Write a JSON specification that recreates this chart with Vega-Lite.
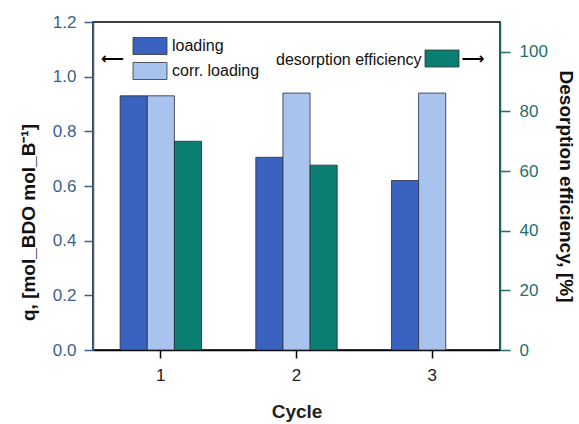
{
  "$schema": "https://vega.github.io/schema/vega-lite/v6.json",
  "width": 407,
  "height": 328,
  "autosize": "none",
  "padding": {"left": 93, "top": 22, "right": 79, "bottom": 74},
  "background": "white",
  "config": {"font": "Liberation Sans", "view": {"stroke": "#000", "strokeWidth": 1.5}},
  "data": {"values": [
    {"cycle": "1", "series": "loading", "q": 0.93},
    {"cycle": "1", "series": "corr. loading", "q": 0.93},
    {"cycle": "1", "series": "desorption efficiency", "eff": 70},
    {"cycle": "2", "series": "loading", "q": 0.705},
    {"cycle": "2", "series": "corr. loading", "q": 0.94},
    {"cycle": "2", "series": "desorption efficiency", "eff": 62},
    {"cycle": "3", "series": "loading", "q": 0.62},
    {"cycle": "3", "series": "corr. loading", "q": 0.94}
  ]},
  "encoding": {
    "x": {"field": "cycle", "type": "ordinal", "scale": {"paddingInner": 0.4, "paddingOuter": 0.2},
      "axis": {"title": "Cycle", "labelAngle": 0, "domainColor": "#000", "domainWidth": 1.5, "tickColor": "#000", "tickSize": 8, "tickWidth": 1.5, "labelFontSize": 17, "labelColor": "#222", "labelPadding": 9, "titleFontSize": 19, "titleFontWeight": "bold", "titleColor": "#222", "titlePadding": 19}},
    "xOffset": {"field": "series", "type": "nominal", "scale": {"domain": ["loading", "corr. loading", "desorption efficiency"]}}
  },
  "layer": [
    {
      "transform": [{"filter": "datum.series !== 'desorption efficiency'"}],
      "mark": {"type": "bar", "stroke": "#2a2a3a", "strokeWidth": 0.8},
      "encoding": {
        "y": {"field": "q", "type": "quantitative", "scale": {"domain": [0, 1.2], "nice": false},
          "axis": {"title": "q, [mol_BDO mol_B⁻¹]", "values": [0, 0.2, 0.4, 0.6, 0.8, 1.0, 1.2], "format": ".1f", "grid": false, "domainColor": "#3b5f8c", "domainWidth": 1.5, "tickColor": "#3b5f8c", "tickWidth": 1.5, "tickSize": 9, "labelColor": "#3b5f8c", "labelFontSize": 17, "labelPadding": 8, "titleFontSize": 19, "titleFontWeight": "bold", "titleColor": "#111", "titlePadding": 14, "titleY": 200}},
        "color": {"field": "series", "type": "nominal", "scale": {"domain": ["loading", "corr. loading"], "range": ["#3a62c0", "#a9c3ef"]},
          "legend": {"title": "⟵", "orient": "none", "legendX": 8, "legendY": 15, "titleOrient": "left", "titleFont": "DejaVu Sans", "titleFontSize": 16, "titleFontWeight": "bold", "titleColor": "#000", "titlePadding": 17, "titleBaseline": "middle", "titleAnchor": "middle", "symbolType": "M-2,-1H2V1H-2Z", "symbolSize": 289, "symbolStrokeColor": "#333", "symbolStrokeWidth": 0.8, "symbolOpacity": 1, "labelFontSize": 16, "labelColor": "#111", "labelOffset": 13, "rowPadding": 3, "padding": 0}}
      }
    },
    {
      "transform": [{"filter": "datum.series === 'desorption efficiency'"}],
      "mark": {"type": "bar", "stroke": "#2a2a3a", "strokeWidth": 0.8},
      "encoding": {
        "y": {"field": "eff", "type": "quantitative", "scale": {"domain": [0, 110], "nice": false},
          "axis": {"orient": "right", "title": "Desorption efficiency, [%]", "values": [0, 20, 40, 60, 80, 100], "grid": false, "domainColor": "#236f6c", "domainWidth": 1.5, "tickColor": "#236f6c", "tickWidth": 1.5, "tickSize": 10, "labelColor": "#236f6c", "labelFontSize": 17, "labelPadding": 9, "titleFontSize": 19, "titleFontWeight": "bold", "titleColor": "#111", "titlePadding": 8}},
        "color": {"field": "series", "type": "nominal", "scale": {"domain": ["desorption efficiency"], "range": ["#0b7e72"]},
          "legend": {"title": "desorption efficiency", "orient": "none", "legendX": 183, "legendY": 27.5, "titleOrient": "left", "titleFontSize": 16, "titleFontWeight": "normal", "titleColor": "#111", "titlePadding": 11, "titleBaseline": "middle", "titleAnchor": "middle", "labelExpr": "'⟶'", "labelFont": "DejaVu Sans", "labelFontSize": 16, "labelFontWeight": "bold", "labelColor": "#000", "labelOffset": 10.5, "symbolType": "M-2,-1H2V1H-2Z", "symbolSize": 289, "symbolStrokeColor": "#333", "symbolStrokeWidth": 0.8, "symbolOpacity": 1, "padding": 0}}
      }
    }
  ],
  "resolve": {"scale": {"y": "independent", "color": "independent"}}
}
